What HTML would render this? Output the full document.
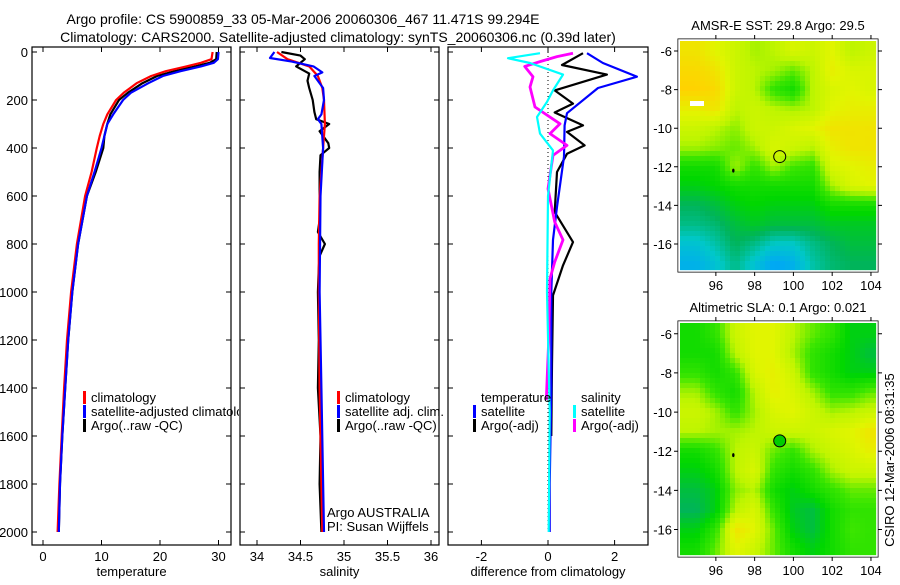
<!DOCTYPE html>
<html><head><meta charset="utf-8"><style>
body{margin:0;background:#fff;}
svg text{font-family:"Liberation Sans",sans-serif;fill:#000;}
</style></head><body>
<svg id="c" width="900" height="580" xmlns="http://www.w3.org/2000/svg">
<defs><clipPath id="clipT"><rect x="0" y="0" width="239" height="580"/></clipPath></defs>
<text x="303" y="24" font-size="14" text-anchor="middle">Argo profile: CS 5900859_33 05-Mar-2006 20060306_467 11.471S 99.294E</text>
<text x="338" y="42" font-size="14" text-anchor="middle">Climatology: CARS2000. Satellite-adjusted climatology: synTS_20060306.nc (0.39d later)</text>
<g id="g"></g>
</svg>
<script>
// ---- data ----
const tDepth=[0,30,45,60,80,100,130,170,200,260,300,350,400,500,600,800,1000,1200,1400,1600,1800,2000];
const tArgo=[29.7,29.6,28.5,26,22.5,19.5,17,14.5,13,11.5,11,10.5,10.3,9,7.5,6,5,4.3,3.8,3.3,2.9,2.7];
const tClim=[29,28.8,27,24.5,21,18.5,16,13.8,12.5,11,10.3,9.7,9.2,8.3,7.2,5.8,4.8,4.1,3.6,3.2,2.8,2.5];
const tSat=[30,29.9,29.2,27,23.5,20.5,18,15,13.7,12,11,10.5,10,8.8,7.5,6,5,4.3,3.8,3.3,2.9,2.7];
const sArgoDepth=[0,15,30,60,90,120,150,200,250,280,300,330,380,400,430,500,600,700,750,800,850,900,1000,1200,1400,1600,1800,2000];
const sArgo=[34.28,34.5,34.55,34.45,34.6,34.58,34.6,34.64,34.66,34.68,34.83,34.72,34.82,34.83,34.73,34.72,34.72,34.72,34.7,34.78,34.72,34.71,34.7,34.71,34.7,34.73,34.72,34.74];
const sClimDepth=[0,30,60,100,150,200,300,400,600,800,1000,1400,2000];
const sClim=[34.23,34.35,34.6,34.7,34.75,34.77,34.78,34.76,34.72,34.71,34.71,34.72,34.75];
const sSatDepth=[0,25,40,60,85,100,150,200,260,280,300,400,600,1000,1400,2000];
const sSat=[34.2,34.15,34.4,34.65,34.75,34.66,34.76,34.77,34.74,34.7,34.74,34.76,34.73,34.72,34.74,34.77];
const dTSatDepth=[5,46,103,150,255,306,436,645,783,1000,1400,1800,2000];
const dTSat=[1.17,1.65,2.67,1.5,0.57,0.5,0.48,0.27,0.15,0.1,0.1,0.05,0.05];
const dTArgoDepth=[5,54,94,160,215,252,306,333,389,424,500,667,792,889,1014,1300,1600];
const dTArgo=[1.05,0.42,1.77,0.2,0.75,0.2,1.05,0.57,1.1,0.57,0.27,0.2,0.75,0.45,0.15,0.12,0.1];
const dSSatDepth=[5,26,46,94,160,208,271,340,410,600,1000,1500,2000];
const dSSat=[-0.24,-1.2,-0.54,0.45,0.15,-0.03,-0.33,-0.24,0.15,0,-0.03,0.05,0.02];
const dSArgoDepth=[5,19,40,60,103,146,229,299,340,389,431,570,708,783,875,944,1200,1450];
const dSArgo=[0.75,0.27,-0.24,-0.7,-0.45,-0.54,-0.39,0.36,0.06,0.57,0.15,0,0.2,0.45,0.2,0.06,0.02,-0.05];
const depthTicks=[0,200,400,600,800,1000,1200,1400,1600,1800,2000];
const tTicks=[0,10,20,30];
const sTicks=[34,34.5,35,35.5,36];
const dTicks=[-2,0,2];
const latTicks=[-6,-8,-10,-12,-14,-16];
const lonTicks=[96,98,100,102,104];
const gridLons=[95,96,97,98,99,100,101,102,103,104];
const gridLats=[-6,-7,-8,-9,-10,-11,-12,-13,-14,-15,-16,-17];
const sstGrid=[
[0.85,0.8,0.75,0.7,0.72,0.78,0.75,0.8,0.72,0.75],
[0.88,0.85,0.75,0.72,0.7,0.65,0.72,0.82,0.78,0.78],
[0.9,0.88,0.75,0.72,0.6,0.55,0.72,0.78,0.8,0.78],
[0.82,0.85,0.72,0.75,0.72,0.7,0.72,0.8,0.82,0.82],
[0.75,0.72,0.68,0.75,0.75,0.78,0.8,0.85,0.85,0.85],
[0.7,0.68,0.65,0.7,0.78,0.75,0.72,0.82,0.85,0.85],
[0.55,0.55,0.7,0.6,0.7,0.62,0.6,0.78,0.8,0.82],
[0.5,0.52,0.55,0.55,0.55,0.55,0.55,0.7,0.78,0.8],
[0.42,0.45,0.5,0.52,0.5,0.5,0.5,0.55,0.55,0.55],
[0.38,0.4,0.45,0.48,0.45,0.45,0.45,0.48,0.48,0.48],
[0.3,0.35,0.42,0.38,0.32,0.32,0.38,0.42,0.45,0.45],
[0.25,0.3,0.38,0.3,0.22,0.25,0.35,0.4,0.42,0.42]];
const slaGrid=[
[0.55,0.6,0.75,0.8,0.8,0.72,0.65,0.6,0.5,0.5],
[0.55,0.55,0.72,0.8,0.8,0.7,0.6,0.55,0.5,0.45],
[0.6,0.55,0.6,0.78,0.82,0.75,0.6,0.55,0.5,0.5],
[0.7,0.6,0.55,0.72,0.82,0.78,0.7,0.6,0.6,0.65],
[0.75,0.7,0.6,0.7,0.78,0.8,0.75,0.7,0.72,0.75],
[0.72,0.7,0.7,0.72,0.75,0.75,0.75,0.78,0.8,0.85],
[0.55,0.6,0.72,0.75,0.65,0.6,0.7,0.75,0.78,0.82],
[0.5,0.55,0.72,0.78,0.6,0.55,0.6,0.7,0.75,0.75],
[0.45,0.5,0.68,0.72,0.55,0.5,0.55,0.6,0.65,0.65],
[0.42,0.5,0.72,0.78,0.6,0.48,0.45,0.55,0.6,0.6],
[0.5,0.6,0.85,0.8,0.65,0.5,0.45,0.55,0.62,0.6],
[0.55,0.65,0.8,0.75,0.65,0.55,0.5,0.55,0.6,0.6]];
const argoLon=99.294, argoLat=-11.471;

// ---- helpers ----
const NS="http://www.w3.org/2000/svg";
const G=document.getElementById('g');
function mk(tag,attrs,parent){const e=document.createElementNS(NS,tag);for(const k in attrs)e.setAttribute(k,attrs[k]);(parent||G).appendChild(e);return e;}
const yD=d=>52+d*0.24;
const xT=v=>43+v*5.85;
const xS=v=>257+(v-34)*87;
const xD=v=>548+v*33.3;

function panel(name,x0,x1,xs,ticks,label,showY){
  const r=mk('rect',{x:x0,y:47,width:x1-x0,height:498,fill:'none',stroke:'#000','stroke-width':1.2});
  
  depthTicks.forEach(d=>{
    const y=yD(d);
    const t=mk('path',{d:`M${x0} ${y}h5M${x1} ${y}h-5`,stroke:'#000'});
    
    if(showY){const tx=mk('text',{x:x0-4,y:y+5,'font-size':13,'text-anchor':'end'});tx.textContent=d;
      }
  });
  ticks.forEach(v=>{
    const x=xs(v);
    const t=mk('path',{d:`M${x} 545v-5M${x} 47v5`,stroke:'#000'});
    
    const tx=mk('text',{x:x,y:561,'font-size':13,'text-anchor':'middle'});tx.textContent=v;
    
  });
  const lb=mk('text',{x:(x0+x1)/2,y:576,'font-size':13,'text-anchor':'middle'});lb.textContent=label;
  
}
function line(name,depths,vals,xs,color,w,dash){
  const d=depths.map((dp,i)=>(i?'L':'M')+xs(vals[i]).toFixed(1)+' '+yD(dp).toFixed(1)).join('');
  const p=mk('path',{d:d,fill:'none',stroke:color,'stroke-width':w,'stroke-linejoin':'round'});
  if(dash)p.setAttribute('stroke-dasharray',dash);
  
}
function legend(x,y,color,text,name,clip){
  const b=mk('rect',{x:x,y:y-11,width:3,height:13,fill:color});
  
  const t=mk('text',{x:x+8,y:y,'font-size':13});t.textContent=text;
  if(clip)t.setAttribute('clip-path','url(#clipT)');
  
}

panel('temperature-panel',32,231,xT,tTicks,'temperature',true);
panel('salinity-panel',240,439,xS,sTicks,'salinity',false);
panel('difference-panel',448,648,xD,dTicks,'difference from climatology',false);

line('temp-argo-line',tDepth,tArgo,xT,'#000',2.2);
line('temp-clim-line',tDepth,tClim,xT,'#f00',2.2);
line('temp-sat-line',tDepth,tSat,xT,'#00f',2.2);
line('sal-argo-line',sArgoDepth,sArgo,xS,'#000',2.2);
line('sal-clim-line',sClimDepth,sClim,xS,'#f00',2.2);
line('sal-sat-line',sSatDepth,sSat,xS,'#00f',2.2);
const zl=mk('path',{d:`M${xD(0)} ${yD(0)}V${yD(2000)}`,stroke:'#000','stroke-dasharray':'1 3'});

line('diff-temp-argo-line',dTArgoDepth,dTArgo,xD,'#000',2.2);
line('diff-temp-sat-line',dTSatDepth,dTSat,xD,'#00f',2.2);
line('diff-sal-argo-line',dSArgoDepth,dSArgo,xD,'#f0f',2.8);
line('diff-sal-sat-line',dSSatDepth,dSSat,xD,'#0ff',2.2);

legend(83,402,'#f00','climatology','legend-temp-climatology',true);
legend(83,416,'#00f','satellite-adjusted climatology','legend-temp-satellite',true);
legend(83,430,'#000','Argo(..raw -QC)','legend-temp-argo',true);
legend(337,402,'#f00','climatology','legend-sal-climatology');
legend(337,416,'#00f','satellite adj. clim.','legend-sal-satellite');
legend(337,430,'#000','Argo(..raw -QC)','legend-sal-argo');
const lt=mk('text',{x:481,y:402,'font-size':13});lt.textContent='temperature';

const ls=mk('text',{x:581,y:402,'font-size':13});ls.textContent='salinity';

legend(473,416,'#00f','satellite','legend-diff-temp-satellite');
legend(473,430,'#000','Argo(-adj)','legend-diff-temp-argo');
legend(573,416,'#0ff','satellite','legend-diff-sal-satellite');
legend(573,430,'#f0f','Argo(-adj)','legend-diff-sal-argo');
const a1=mk('text',{x:327,y:517,'font-size':13});a1.textContent='Argo AUSTRALIA';

const a2=mk('text',{x:327,y:531,'font-size':13});a2.textContent='PI: Susan Wijffels';

const cs=mk('text',{x:894,y:460,'font-size':13,'text-anchor':'middle',transform:'rotate(-90 894 460)'});cs.textContent='CSIRO 12-Mar-2006 08:31:35';


// ---- maps ----
const cstops=[[0.2,[0,160,255]],[0.32,[0,200,200]],[0.42,[0,180,90]],[0.52,[0,215,0]],[0.62,[60,230,0]],[0.72,[190,245,0]],[0.8,[225,245,0]],[0.9,[255,210,0]],[1,[255,160,0]]];
function cmap(v){
  if(v<=cstops[0][0])return cstops[0][1];
  for(let i=1;i<cstops.length;i++){if(v<=cstops[i][0]){const a=cstops[i-1],b=cstops[i],f=(v-a[0])/(b[0]-a[0]);return a[1].map((c,k)=>Math.round(c+(b[1][k]-c)*f));}}
  return cstops[cstops.length-1][1];
}
function sample(grid,lon,lat){
  let fi=Math.min(Math.max(lon-gridLons[0],0),gridLons.length-1.001);
  let fj=Math.min(Math.max(gridLats[0]-lat,0),gridLats.length-1.001);
  const i=Math.floor(fi),j=Math.floor(fj),u=fi-i,v=fj-j;
  return grid[j][i]*(1-u)*(1-v)+grid[j][i+1]*u*(1-v)+grid[j+1][i]*(1-u)*v+grid[j+1][i+1]*u*v;
}
function map(name,grid,x0,x1,y0,y1,lonL,lonR,latT,latB,title,filled){
  const xs=l=>x0+(l-lonL)/(lonR-lonL)*(x1-x0);
  const ys=l=>y0+(latT-l)/(latT-latB)*(y1-y0);
  const g=mk('g',{});
  
  const cs=5;
  for(let y=y0;y<y1;y+=cs)for(let x=x0;x<x1;x+=cs){
    const lon=lonL+(x+cs/2-x0)/(x1-x0)*(lonR-lonL), lat=latT-(y+cs/2-y0)/(y1-y0)*(latT-latB);
    const c=cmap(sample(grid,lon,lat));
    const r=mk('rect',{x:x,y:y,width:Math.min(cs,x1-x)+0.3,height:Math.min(cs,y1-y)+0.3,fill:`rgb(${c})`},g);
    
  }
  const f=mk('rect',{x:x0-2,y:y0-2,width:x1-x0+4,height:y1-y0+4,fill:'none',stroke:'#000','stroke-width':1});
  
  const f2=mk('rect',{x:x0-1,y:y0-1,width:x1-x0+2,height:y1-y0+2,fill:'none',stroke:'#fff','stroke-width':1.5});
  
  latTicks.forEach(l=>{const y=ys(l);
    const t=mk('path',{d:`M${x0-2} ${y}h-4M${x1+2} ${y}h4`,stroke:'#000'});
    const tx=mk('text',{x:x0-8,y:y+5,'font-size':13,'text-anchor':'end'});tx.textContent=l;
    });
  lonTicks.forEach(l=>{const x=xs(l);
    const t=mk('path',{d:`M${x} ${y1+2}v4M${x} ${y0-2}v-4`,stroke:'#000'});
    const tx=mk('text',{x:x,y:y1+20,'font-size':13,'text-anchor':'middle'});tx.textContent=l;
    });
  const tt=mk('text',{x:(x0+x1)/2,y:y0-11,'font-size':13,'text-anchor':'middle'});tt.textContent=title;
  
  const c=mk('circle',{cx:xs(argoLon),cy:ys(argoLat),r:6,fill:filled?'#00cc00':'none',stroke:'#000','stroke-width':1});
  
  const m=mk('ellipse',{cx:xs(96.9),cy:ys(-12.2),rx:1.2,ry:2,fill:'#000'});
  
  return {xs,ys};
}
const m1=map('sst-map',sstGrid,680,876,41,270,94.15,104.26,-5.48,-17.35,'AMSR-E SST: 29.8 Argo: 29.5',false);
const wr=mk('rect',{x:690,y:101,width:14,height:5,fill:'#fff'});

map('sla-map',slaGrid,680,876,323,555,94.15,104.26,-5.45,-17.3,'Altimetric SLA: 0.1 Argo: 0.021',true);
</script>
</body></html>
